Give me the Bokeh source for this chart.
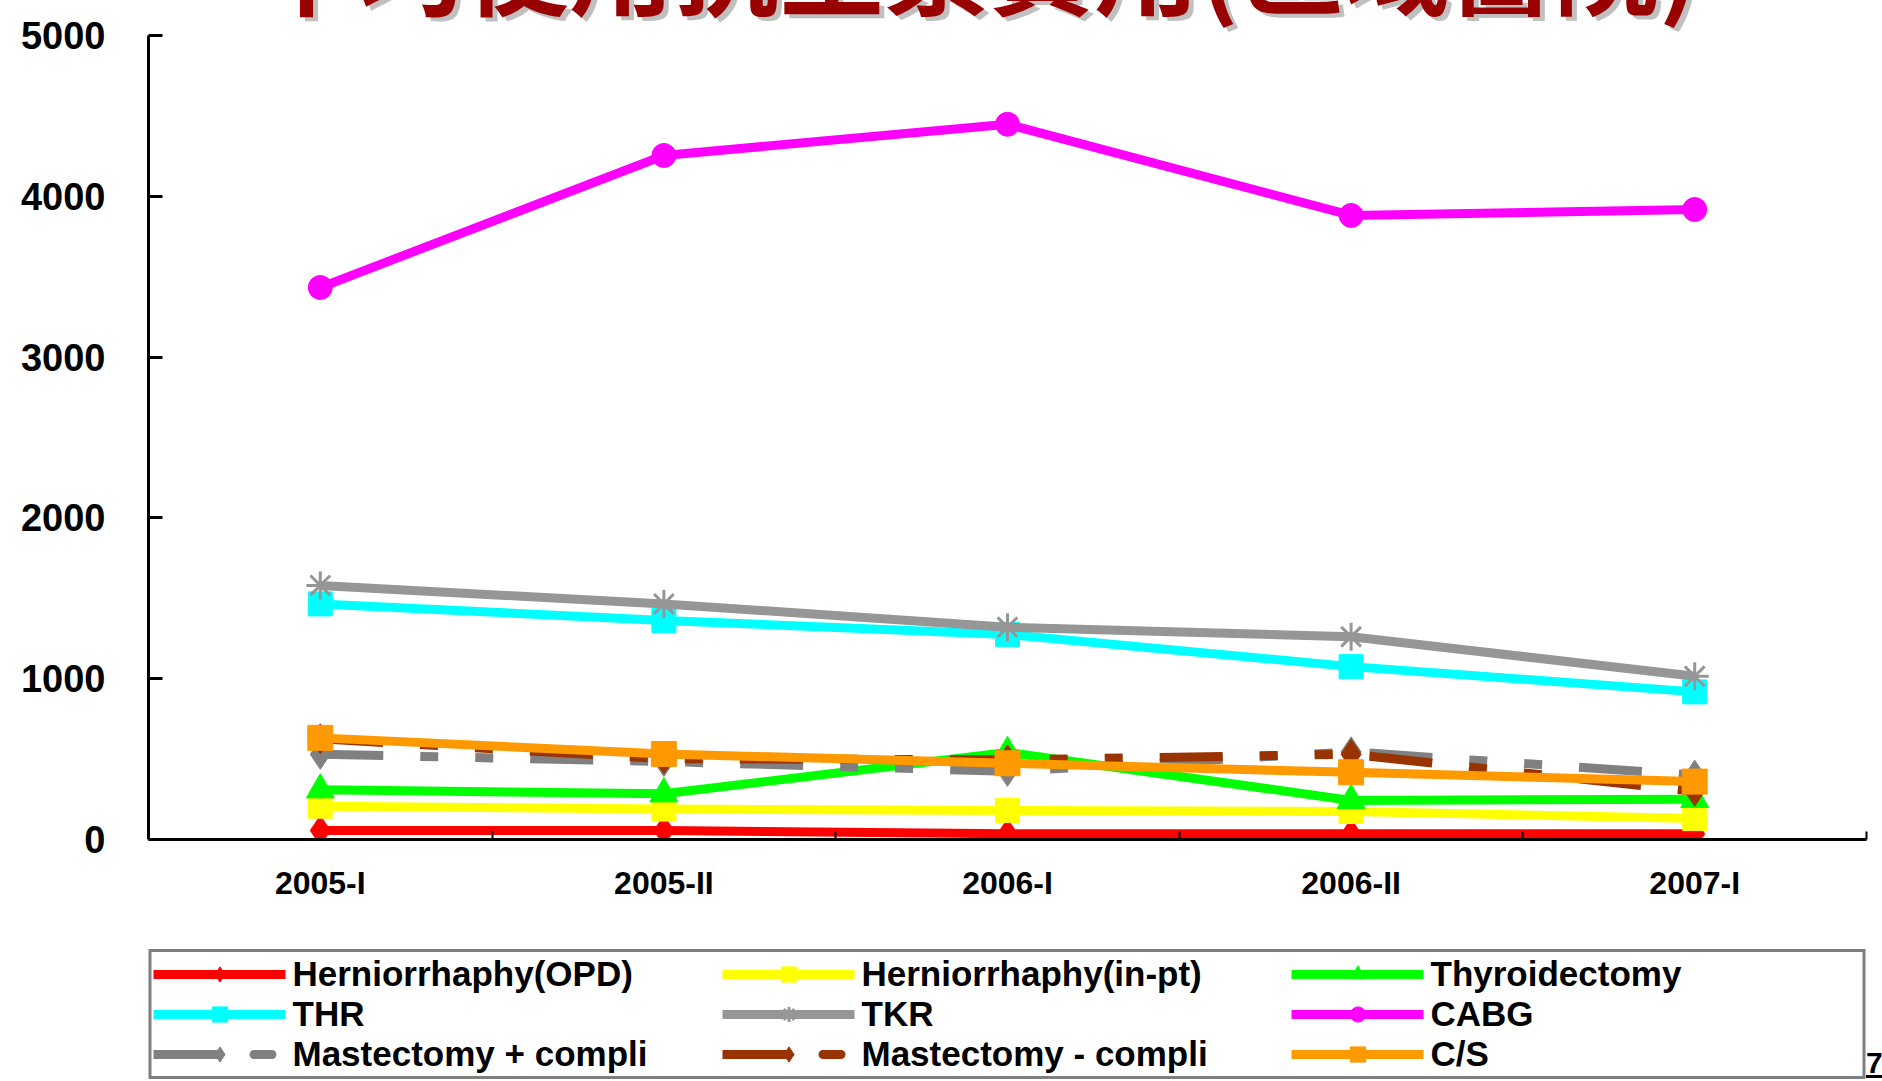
from bokeh.plotting import figure
from bokeh.layouts import column
from bokeh.models import Range1d, FixedTicker, Legend, LegendItem, Div
from bokeh.embed import file_html
from bokeh.resources import INLINE

# ---- data ----
periods = ["2005-I", "2005-II", "2006-I", "2006-II", "2007-I"]
herniorrhaphy_opd = [56, 56, 35, 35, 35]
herniorrhaphy_inpt = [207, 189, 180, 174, 130]
thyroidectomy = [309, 284, 542, 243, 250]
thr = [1465, 1362, 1275, 1075, 918]
tkr = [1580, 1465, 1320, 1261, 1015]
cabg = [3433, 4254, 4448, 3881, 3918]
mastectomy_plus = [530, 485, 424, 545, 400]
mastectomy_minus = [626, 503, 495, 530, 300]
c_s = [632, 532, 474, 418, 360]
y_ticks = [0, 1000, 2000, 3000, 4000, 5000]
title_text = "平均使用抗生素費用(區域醫院)"
page_no = "7"

DASH = "63 37 18 37 18 37"
series = [
    ("Herniorrhaphy(OPD)", herniorrhaphy_opd, "#FF0000", "diamond", 30, "solid"),
    ("Herniorrhaphy(in-pt)", herniorrhaphy_inpt, "#FFFF00", "square", 24, "solid"),
    ("Thyroidectomy", thyroidectomy, "#00FF00", "triangle", 28, "solid"),
    ("THR", thr, "#00FFFF", "square", 24, "solid"),
    ("TKR", tkr, "#969696", "asterisk", 28, "solid"),
    ("CABG", cabg, "#FF00FF", "circle", 24, "solid"),
    ("Mastectomy + compli", mastectomy_plus, "#808080", "diamond", 30, DASH),
    ("Mastectomy - compli", mastectomy_minus, "#993300", "diamond", 30, DASH),
    ("C/S", c_s, "#FF9900", "square", 25, "solid"),
]

xs = [i + 0.5 for i in range(len(periods))]

W = 1882
H = 1081
FONT = "'Liberation Sans', Arial, sans-serif"

# ---------------- title strip (HTML; only the bottom of the title is visible) -------------
TH = 40
title_html = (
    f'<div style="position:relative;width:{W}px;height:{TH}px;overflow:hidden;margin:0;padding:0;">'
    '<span style="position:absolute;left:254px;top:-91px;white-space:nowrap;'
    "font-family:'Noto Sans CJK TC','Noto Sans CJK SC',sans-serif;font-weight:bold;"
    'font-size:105px;line-height:105px;color:#990000;text-shadow:5px 4px 0 #C0C0C0;">'
    f'{title_text}</span></div>'
    f'<div style="position:relative;width:{W}px;height:{H - TH}px;overflow:hidden;margin:0;padding:0;">'
    f'<span style="position:absolute;left:1866px;top:{1048 - TH}px;white-space:nowrap;'
    "font-family:'Liberation Sans',Arial,sans-serif;font-weight:bold;font-size:30px;"
    f'line-height:30px;color:black;text-decoration:underline;">{page_no}</span></div>'
)
title_div = Div(text=title_html, width=W, height=TH, margin=(0, 0, 0, 0))

# ---------------- main chart (its transparent top border overlaps the title strip) ------
TOP = 10          # page y where the chart canvas starts
FRAME_TOP = 35
FRAME_BOTTOM = 839
CHART_END = 930
MH = CHART_END - TOP
p = figure(width=W, height=MH, output_backend="svg", toolbar_location=None,
           x_range=Range1d(0, len(periods)), y_range=Range1d(y_ticks[0], y_ticks[-1]),
           min_border_left=148, min_border_right=16, min_border_top=FRAME_TOP - TOP,
           min_border_bottom=CHART_END - FRAME_BOTTOM, margin=(TOP - TH, 0, 0, 0))
p.outline_line_color = None
p.grid.visible = False
p.border_fill_alpha = 0.0
p.background_fill_alpha = 0.0

xa = p.xaxis[0]
xa.ticker = FixedTicker(ticks=xs, minor_ticks=[i + 1 for i in range(len(periods))])
xa.major_label_overrides = {x: lab for x, lab in zip(xs, periods)}
xa.major_tick_line_color = None
xa.minor_tick_in = 8
xa.minor_tick_out = 0
xa.minor_tick_line_width = 2
xa.minor_tick_line_color = "black"
xa.axis_line_width = 3
xa.axis_line_color = "black"
xa.major_label_text_font = FONT
xa.major_label_text_font_style = "bold"
xa.major_label_text_font_size = "32px"
xa.major_label_text_color = "black"
xa.major_label_standoff = 19

ya = p.yaxis[0]
ya.ticker = FixedTicker(ticks=y_ticks, minor_ticks=[])
ya.major_tick_in = 14
ya.major_tick_out = 0
ya.major_tick_line_width = 3
ya.axis_line_width = 3
ya.axis_line_color = "black"
ya.major_label_text_font = FONT
ya.major_label_text_font_style = "bold"
ya.major_label_text_font_size = "38px"
ya.major_label_text_color = "black"
ya.major_label_standoff = 43

for name, vals, color, marker, size, dash in series:
    p.line(xs, vals, line_width=9, line_color=color, line_dash=dash, line_join="round")
    p.scatter(xs, vals, marker=marker, size=size, fill_color=color, line_color=color,
              line_width=3 if marker == "asterisk" else 1)

# ---------------- legend strip ----------------
LY0 = CHART_END
LH = H - LY0
pl = figure(width=W, height=LH, output_backend="svg", toolbar_location=None,
            x_range=Range1d(0, 1), y_range=Range1d(0, 1),
            min_border_left=148, min_border_top=0, min_border_right=16,
            min_border_bottom=0, x_axis_type=None, y_axis_type=None)
pl.outline_line_color = None
pl.grid.visible = False
pl.border_fill_alpha = 0.0
pl.background_fill_alpha = 0.0

items = []
for name, vals, color, marker, size, dash in series:
    # legend-only renderers, placed outside this strip's visible range
    ln = pl.line(xs, vals, line_width=9, line_color=color, line_dash=dash, line_cap="round")
    mk = pl.scatter(xs, vals, marker=marker, size=size, fill_color=color, line_color=color,
                    line_width=3 if marker == "asterisk" else 1)
    items.append(LegendItem(label=name, renderers=[ln, mk]))

legend = Legend(items=items, orientation="horizontal", ncols=3, location="top_center",
                margin=19, padding=2, spacing=0,
                glyph_width=132, glyph_height=38, label_standoff=7,
                label_width=430,
                label_text_font=FONT, label_text_font_style="bold",
                label_text_font_size="35px", label_text_color="black",
                border_line_color="black", border_line_width=3,
                background_fill_color="white", background_fill_alpha=1.0)
pl.add_layout(legend, "center")

layout = column(title_div, p, pl, spacing=0)
open("out.html", "w").write(file_html(layout, INLINE))
